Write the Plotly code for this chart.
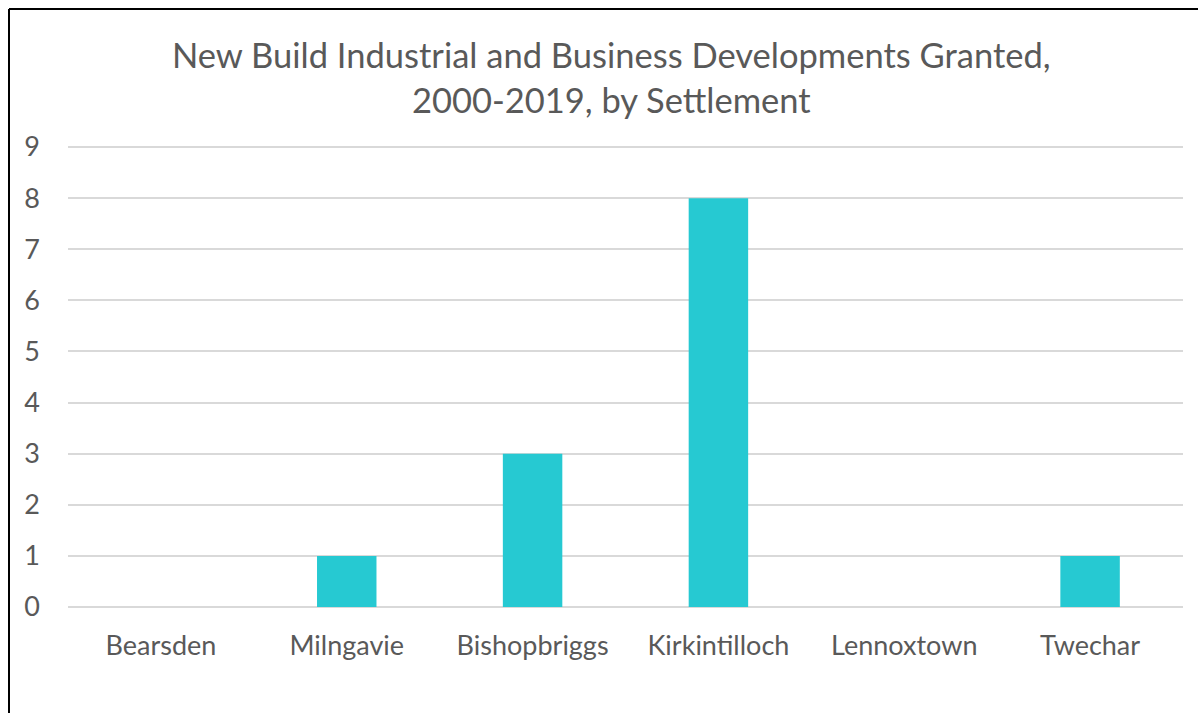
import plotly.graph_objects as go

categories = ["Bearsden", "Milngavie", "Bishopbriggs", "Kirkintilloch", "Lennoxtown", "Twechar"]
values = [0, 1, 3, 8, 0, 1]
y_ticks = [0, 1, 2, 3, 4, 5, 6, 7, 8, 9]

W, H = 1198, 713
# target plot-area positions in screenshot pixels
PL, PR, PT, PB = 68, 1183, 146, 607
L, R, T, B = PL, W - PR, PT, H - PB
pw = W - L - R
ph = H - T - B

def px_x(px):
    return (px - L) / pw

def px_y(py):
    return (H - B - py) / ph

FONT = "Lato"
GREY = "#595959"

fig = go.Figure(go.Bar(x=categories, y=values, marker_color="#26C9D2", marker_line_width=0))

fig.update_layout(
    width=W, height=H,
    margin=dict(l=L, r=R, t=T, b=B),
    paper_bgcolor="white", plot_bgcolor="white",
    bargap=0.68,
    showlegend=False,
    font=dict(family=FONT, color=GREY),
)
fig.update_xaxes(showgrid=False, showline=False, ticks="", tickfont=dict(size=27, color=GREY, family=FONT),
                 ticklabelstandoff=20)
fig.update_yaxes(range=[0, 9.02], tickvals=y_ticks, showgrid=True, gridcolor="#D9D9D9", gridwidth=2,
                 zeroline=True, zerolinecolor="#D9D9D9", zerolinewidth=2,
                 ticks="", tickfont=dict(size=27, color=GREY, family=FONT), ticklabelstandoff=27)

fig.add_annotation(x=px_x(611), y=px_y(77), xref="paper", yref="paper", xanchor="center", yanchor="middle",
                   text="New Build Industrial and Business Developments Granted,<br>2000-2019, by Settlement",
                   showarrow=False, font=dict(size=34.5, color=GREY, family=FONT), align="center")

# border lines (left and top)
fig.add_shape(type="line", xref="paper", yref="paper", x0=px_x(9), x1=px_x(9), y0=px_y(9), y1=px_y(720),
              line=dict(color="black", width=2))
fig.add_shape(type="line", xref="paper", yref="paper", x0=px_x(9), x1=px_x(1205), y0=px_y(9), y1=px_y(9),
              line=dict(color="black", width=2))

fig.write_html("out.html", config={"displayModeBar": False},
               post_script="document.body.style.margin='0';document.body.style.overflow='hidden';")
